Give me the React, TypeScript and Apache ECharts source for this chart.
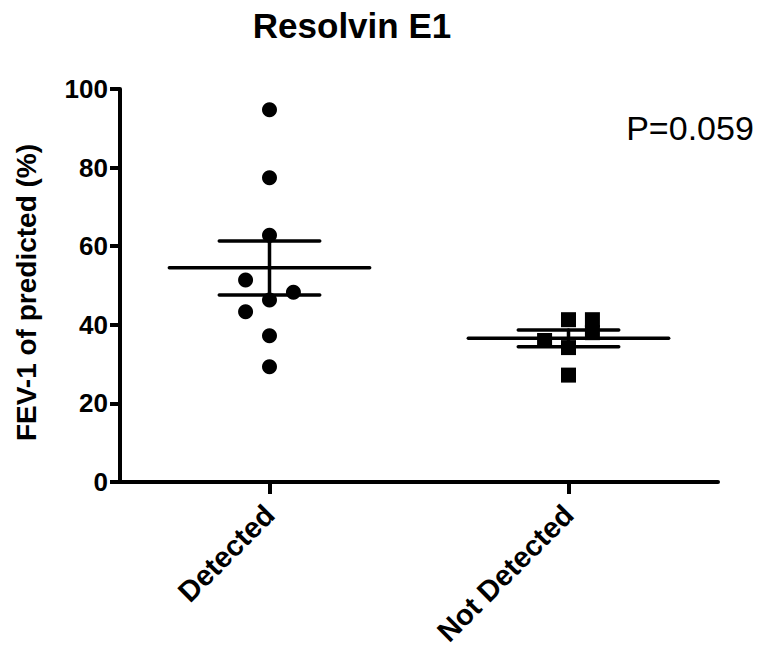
import React, { useEffect, useRef } from "react";
import * as echarts from "echarts";

const titleText = "Resolvin E1";
const yAxisTitle = "FEV-1 of predicted (%)";
const pValueText = "P=0.059";
const categories = ["Detected", "Not Detected"];
const yTicks = { min: 0, max: 100, interval: 20 };

// FEV-1 values
const detectedValues = [94.7, 77.4, 62.8, 51.4, 48.3, 46.3, 43.3, 37.2, 29.3];
// horizontal spread of overlapping points (in category widths)
const detectedSpread = [0, 0, 0, -0.08, 0.08, 0, -0.08, 0, 0];
const notDetectedValues = [41.3, 41.3, 38.0, 36.0, 34.2, 27.2];
const notDetectedSpread = [0, 0.08, 0.08, -0.08, 0, 0];

// mean and SEM bounds
const groupMeans = [54.5, 36.6];
const groupSemLow = [47.6, 34.4];
const groupSemHigh = [61.3, 38.7];

const FONT = "'Liberation Sans', Arial, Helvetica, sans-serif";

export default function App() {
  const ref = useRef<HTMLDivElement>(null);

  useEffect(() => {
    if (!ref.current) return;
    const chart = echarts.init(ref.current, undefined, { renderer: "svg" });

    const toPoints = (vals: number[], spread: number[], idx: number) =>
      vals.map((v, i) => [idx + 0.5 + spread[i], v]);

    const summary = categories.map((_, i) => [
      i + 0.5,
      groupMeans[i],
      groupSemLow[i],
      groupSemHigh[i],
    ]);

    chart.setOption({
      animation: false,
      backgroundColor: "#ffffff",
      graphic: [
        {
          type: "text",
          x: 352,
          y: 25,
          style: {
            text: titleText,
            font: `bold 35px ${FONT}`,
            fill: "#000",
            textAlign: "center",
            textVerticalAlign: "middle",
          },
        },
        {
          type: "text",
          x: 690,
          y: 128,
          style: {
            text: pValueText,
            font: `34px ${FONT}`,
            fill: "#000",
            textAlign: "center",
            textVerticalAlign: "middle",
          },
        },
      ],
      grid: {
        left: 120,
        right: 50,
        top: 89,
        bottom: 172,
        containLabel: false,
        outerBoundsMode: "none",
      },
      xAxis: [
        {
          type: "category",
          data: categories,
          boundaryGap: true,
          axisLine: { show: true, lineStyle: { color: "#000", width: 4 } },
          axisTick: {
            show: true,
            alignWithLabel: true,
            length: 12,
            lineStyle: { color: "#000", width: 4 },
          },
          axisLabel: {
            rotate: 45,
            margin: 28,
            color: "#000",
            fontFamily: FONT,
            fontWeight: "bold",
            fontSize: 29,
            interval: 0,
          },
          splitLine: { show: false },
        },
        {
          type: "value",
          min: 0,
          max: 2,
          show: false,
          splitLine: { show: false },
        },
      ],
      yAxis: {
        type: "value",
        min: yTicks.min,
        max: yTicks.max,
        interval: yTicks.interval,
        name: yAxisTitle,
        nameLocation: "middle",
        nameGap: 80,
        nameTextStyle: {
          color: "#000",
          fontFamily: FONT,
          fontSize: 28,
          fontWeight: "bold",
          padding: [0, 14, 0, 0],
        },
        axisLine: { show: true, lineStyle: { color: "#000", width: 4 } },
        axisTick: { show: true, length: 10, lineStyle: { color: "#000", width: 4 } },
        axisLabel: {
          margin: 12,
          color: "#000",
          fontFamily: FONT,
          fontWeight: "bold",
          fontSize: 26,
        },
        splitLine: { show: false },
      },
      series: [
        {
          type: "scatter",
          name: categories[0],
          xAxisIndex: 1,
          symbol: "circle",
          symbolSize: 15,
          itemStyle: { color: "#000", opacity: 1 },
          data: toPoints(detectedValues, detectedSpread, 0),
          z: 3,
        },
        {
          type: "scatter",
          name: categories[1],
          xAxisIndex: 1,
          symbol: "rect",
          symbolSize: 15,
          itemStyle: { color: "#000", opacity: 1 },
          data: toPoints(notDetectedValues, notDetectedSpread, 1),
          z: 3,
        },
        {
          type: "custom",
          xAxisIndex: 1,
          data: summary,
          z: 4,
          renderItem: (params: any, api: any) => {
            const x = api.value(0);
            const mean = api.coord([x, api.value(1)]);
            const lo = api.coord([x, api.value(2)]);
            const hi = api.coord([x, api.value(3)]);
            const halfMean = api.size([0.335, 0])[0];
            const halfCap = api.size([0.168, 0])[0];
            const style = { stroke: "#000", lineWidth: 3.5, lineCap: "round" };
            return {
              type: "group",
              children: [
                { type: "line", shape: { x1: mean[0] - halfMean, y1: mean[1], x2: mean[0] + halfMean, y2: mean[1] }, style },
                { type: "line", shape: { x1: hi[0] - halfCap, y1: hi[1], x2: hi[0] + halfCap, y2: hi[1] }, style },
                { type: "line", shape: { x1: lo[0] - halfCap, y1: lo[1], x2: lo[0] + halfCap, y2: lo[1] }, style },
                { type: "line", shape: { x1: lo[0], y1: lo[1], x2: hi[0], y2: hi[1] }, style },
              ],
            };
          },
        },
      ],
    });

    return () => chart.dispose();
  }, []);

  return (
    <div
      ref={ref}
      style={{ position: "absolute", left: 0, top: 0, width: 768, height: 654 }}
    />
  );
}
